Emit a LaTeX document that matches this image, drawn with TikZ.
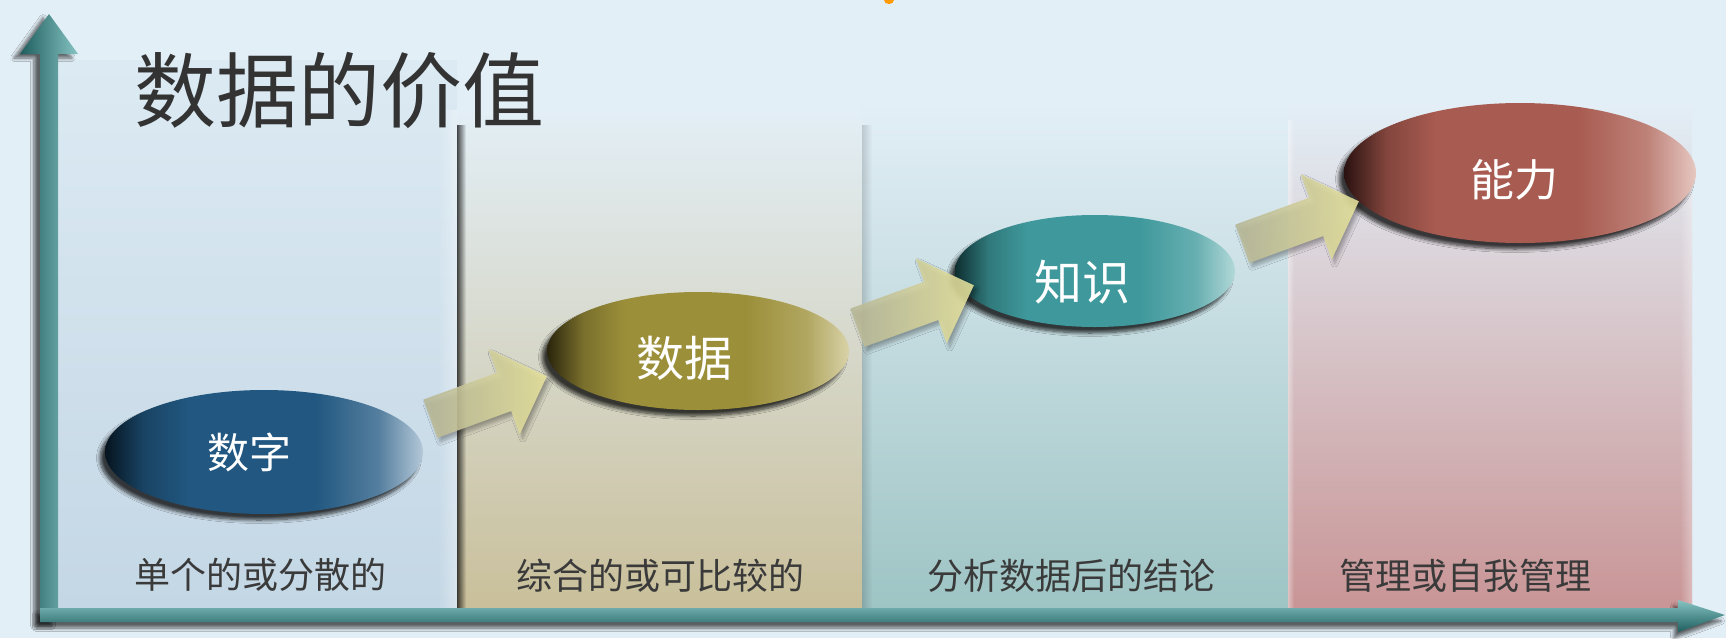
\documentclass[tikz,border=0pt]{standalone}
\usepackage{fontspec}
\newfontfamily\cjk{Noto Sans CJK SC}
\usetikzlibrary{shapes.geometric,shapes.arrows,shadows.blur,fadings}

\definecolor{bg}{HTML}{E3EFF7}
\definecolor{bgtop}{HTML}{DCEAF3}
\definecolor{titlec}{HTML}{333333}
\definecolor{labc}{HTML}{3A3A3A}
\definecolor{pA}{HTML}{C4D7E5}
\definecolor{pB}{HTML}{C9BF9A}
\definecolor{pC}{HTML}{9EC4C4}
\definecolor{pD}{HTML}{C99596}
\definecolor{axdk}{HTML}{1F5E5E}
\definecolor{axmn}{HTML}{3E9090}
\definecolor{axlt}{HTML}{86C4C4}
\definecolor{arTail}{HTML}{B8B898}
\definecolor{arHead}{HTML}{E8E49C}
% ellipse colours
\definecolor{dkA}{HTML}{06141F}\definecolor{mnA}{HTML}{215780}\definecolor{ltA}{HTML}{B4C8D8}
\definecolor{dkB}{HTML}{2A250C}\definecolor{mnB}{HTML}{9C8F3A}\definecolor{ltB}{HTML}{D8D2A8}
\definecolor{dkC}{HTML}{0E2E30}\definecolor{mnC}{HTML}{3F999C}\definecolor{ltC}{HTML}{B2D8D8}
\definecolor{dkD}{HTML}{2A1210}\definecolor{mnD}{HTML}{A85B50}\definecolor{ltD}{HTML}{E6C8C2}

\pgfdeclarehorizontalshading{shA}{100bp}{color(0bp)=(dkA); color(25bp)=(dkA); color(31bp)=(mnA!70!dkA); color(38bp)=(mnA); color(58bp)=(mnA); color(68bp)=(mnA!65!ltA); color(75bp)=(ltA); color(100bp)=(ltA)}
\pgfdeclarehorizontalshading{shB}{100bp}{color(0bp)=(dkB); color(25bp)=(dkB); color(31bp)=(mnB!70!dkB); color(38bp)=(mnB); color(58bp)=(mnB); color(68bp)=(mnB!65!ltB); color(75bp)=(ltB); color(100bp)=(ltB)}
\pgfdeclarehorizontalshading{shC}{100bp}{color(0bp)=(dkC); color(25bp)=(dkC); color(31bp)=(mnC!70!dkC); color(38bp)=(mnC); color(58bp)=(mnC); color(68bp)=(mnC!65!ltC); color(75bp)=(ltC); color(100bp)=(ltC)}
\pgfdeclarehorizontalshading{shD}{100bp}{color(0bp)=(dkD); color(25bp)=(dkD); color(31bp)=(mnD!70!dkD); color(38bp)=(mnD); color(58bp)=(mnD); color(68bp)=(mnD!65!ltD); color(75bp)=(ltD); color(100bp)=(ltD)}

\begin{document}
\begin{tikzpicture}[x=0.5pt,y=-0.5pt,
  ell/.style={ellipse, inner sep=0pt, draw=none,
    blur shadow={shadow xshift=-2.5pt,shadow yshift=-3pt,shadow opacity=75,shadow blur steps=8}},
  etext/.style={text=white, inner sep=0pt, font=\cjk\fontsize{24}{24}\selectfont},
  lab/.style={text=labc, inner sep=0pt, font=\cjk\fontsize{18}{18}\selectfont},
  titlestyle/.style={text=titlec, inner sep=0pt, font=\cjk\fontsize{41}{41}\selectfont},
  blockarr/.style={single arrow, single arrow head extend=12.5pt, single arrow head indent=0pt,
    inner xsep=0pt, inner ysep=10pt, minimum height=62pt, minimum width=45pt, rotate=20,
    left color=arTail, right color=arHead, opacity=0.88,
    blur shadow={shadow xshift=1.5pt,shadow yshift=-2pt,shadow opacity=35,shadow blur steps=6}},
  panel/.style={draw=none}]
\useasboundingbox (0,0) rectangle (1726,638);
\fill[bg] (0,0) rectangle (1726,638);
\fill[orange!80!yellow] (889,0) ellipse (5 and 4);

% panels
\shade[panel, top color=bgtop, bottom color=pA] (58,60) rectangle (457,608);
\shade[panel, top color=bg, bottom color=pB] (457,105) rectangle (862,608);
\shade[panel, top color=bg, bottom color=pC] (862,100) rectangle (1288,608);
\shade[panel, top color=bg, bottom color=pD] (1288,100) rectangle (1692,608);
\fill[white, opacity=0.35, path fading=west] (438,110) rectangle (457,608);
\fill[black, opacity=0.7, path fading=east] (457,125) rectangle (466,608);
\fill[black, opacity=0.15, path fading=east] (862,125) rectangle (872,608);
\fill[white, opacity=0.4, path fading=east] (1288,120) rectangle (1294,608);
\fill[white, opacity=0.35, path fading=west] (1680,170) rectangle (1692,608);

% title
\node[titlestyle] (title) at (339,90) {数据的价值};

% ellipses
\node[ell, shading=shA, minimum width=159pt, minimum height=62pt] (e1) at (264,452) {};
\node[ell, shading=shB, minimum width=151pt, minimum height=59pt] (e2) at (698,351) {};
\node[ell, shading=shC, minimum width=140pt, minimum height=56pt] (e3) at (1095,271) {};
\node[ell, shading=shD, minimum width=176pt, minimum height=70pt] (e4) at (1520,173) {};

\node[etext, font=\cjk\fontsize{21}{21}\selectfont] (t1) at ([shift={(-15,0)}]e1.center) {数字};
\node[etext] (t2) at ([shift={(-14,7)}]e2.center) {数据};
\node[etext] (t3) at ([shift={(-13,11)}]e3.center) {知识};
\node[etext, font=\cjk\fontsize{22}{22}\selectfont] (t4) at ([shift={(-6,7)}]e4.center) {能力};

% connecting block arrows
\node[blockarr] (a1) at (479,401) {};
\node[blockarr] (a2) at (906,310) {};
\node[blockarr] (a3) at (1291,226) {};

% labels
\node[lab] (l1) at (260,575) {单个的或分散的};
\node[lab] (l2) at (660,576) {综合的或可比较的};
\node[lab] (l3) at (1071,576) {分析数据后的结论};
\node[lab] (l4) at (1465,576) {管理或自我管理};

% axes
\path[left color=axdk, right color=axlt,
  blur shadow={shadow xshift=-3pt,shadow yshift=-2pt,shadow opacity=60,shadow blur steps=6}]
  (40,622) -- (40,54) -- (20,54) -- (49,14) -- (78,54) -- (58,54) -- (58,622) -- cycle;
\path[top color=axlt, bottom color=axdk,
  blur shadow={shadow xshift=-2pt,shadow yshift=-3pt,shadow opacity=60,shadow blur steps=6}]
  (40,608) -- (1678,608) -- (1678,600) -- (1725,615) -- (1678,632) -- (1678,622) -- (40,622) -- cycle;
\end{tikzpicture}
\end{document}
